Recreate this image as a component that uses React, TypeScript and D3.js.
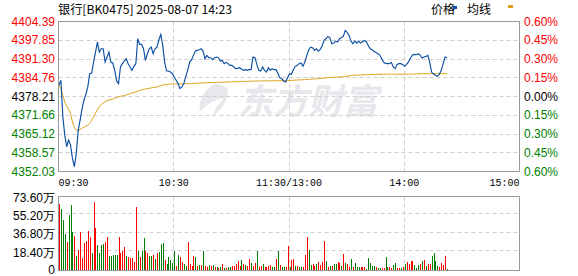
import React from "react";
import * as d3 from "d3";

const title = "银行[BK0475] 2025-08-07 14:23";
const prevClose = 4378.21;
const priceTicks = [4404.39, 4397.85, 4391.3, 4384.76, 4378.21, 4371.66, 4365.12, 4358.57, 4352.03];
const pctTicks = ["0.60%", "0.45%", "0.30%", "0.15%", "0.00%", "0.15%", "0.30%", "0.45%", "0.60%"];
const volTicks = [73.6, 55.2, 36.8, 18.4, 0];
const volTickLabels = ["73.60万", "55.20万", "36.80万", "18.40万", "0"];
const timeTicks = [0, 60, 120, 180, 240];
const timeLabels = ["09:30", "10:30", "11:30/13:00", "14:00", "15:00"];

// price per minute from 09:30
const price = [
  4382.13, 4383.87, 4371.11, 4364.73, 4360.67, 4362.99, 4361.25, 4356.61, 4353.71, 4358.35,
  4366.47, 4369.95, 4374.01, 4376.91, 4378.99, 4381.55, 4386.19, 4386.42, 4390.24, 4393.72,
  4397.2, 4393.72, 4394.88, 4394.88, 4390.24, 4391.98, 4393.72, 4390.24, 4389.9, 4387.35,
  4383.64, 4382.71, 4388.51, 4389.67, 4390.59, 4391.4, 4389.67, 4388.51, 4387.35, 4388.74,
  4389.67, 4398.36, 4396.39, 4396.39, 4394.88, 4390.82, 4393.14, 4394.88, 4395.46, 4393.14,
  4394.88, 4395.46, 4398.01, 4399.87, 4396.04, 4390.24, 4387.11, 4387.11, 4386.76, 4386.19,
  4385.03, 4383.87, 4382.71, 4380.97, 4381.55, 4382.71, 4385.26, 4387.35, 4390.24,
  4391.05, 4392.56, 4394.07, 4394.3, 4394.53, 4394.88, 4394.07, 4391.4, 4392.56, 4391.75,
  4391.75, 4391.05, 4391.75, 4391.98, 4391.75, 4390.59, 4390.82, 4389.67, 4390.13, 4389.67,
  4389.08, 4389.08, 4388.51, 4387.93, 4388.04, 4388.27, 4387.81, 4387.35, 4387.58, 4387.35,
  4387.58, 4387.58, 4391.98, 4391.75, 4389.43, 4387.35, 4387.11, 4388.51, 4387.35, 4386.76,
  4388.27, 4387.35, 4387.93, 4387.58, 4387.58, 4386.19, 4384.79, 4384.44, 4383.64, 4383.29,
  4384.79, 4386.19, 4385.95, 4387.58, 4388.74, 4389.08, 4389.67, 4389.9, 4388.74, 4390.24,
  4392.56, 4394.53, 4395.46, 4395.23, 4394.3, 4394.88, 4394.07,
  4394.65, 4395.93, 4397.78, 4398.36, 4399.17, 4398.71, 4396.62, 4396.85, 4397.55, 4397.2,
  4398.36, 4398.71, 4399.17, 4401.26, 4400.57, 4399.52, 4397.55, 4396.62, 4397.55, 4396.85,
  4397.55, 4396.85, 4397.32, 4397.78, 4397.32, 4396.04, 4394.88, 4394.53, 4393.95, 4393.61,
  4393.14, 4392.68, 4391.4, 4390.13, 4389.78, 4389.67, 4389.67, 4390.13, 4388.51, 4387.93,
  4389.43, 4389.67, 4389.67, 4389.32, 4388.74, 4389.43, 4390.36, 4391.63, 4392.68, 4392.91,
  4392.79, 4393.14, 4392.68, 4391.63, 4391.98, 4392.21, 4392.56, 4390.24, 4386.65, 4386.07,
  4385.61, 4385.26, 4385.95, 4387.35, 4389.67, 4391.98, 4391.75,
];

const avgLine = [
  4382.13, 4380.97, 4378.65, 4376.33, 4374.82, 4373.78, 4372.26, 4369.36, 4367.39, 4366.47,
  4366.23, 4366.69, 4367.16, 4367.5, 4367.85, 4368.2, 4368.78, 4369.94, 4371.1, 4372.49,
  4373.65, 4374.58, 4375.39, 4375.97, 4376.44, 4376.78, 4377.02, 4377.13, 4377.36, 4377.6,
  4377.83, 4378.06, 4378.29, 4378.41, 4378.53, 4378.76, 4378.99, 4379.22, 4379.45, 4379.68,
  4379.8, 4380.15, 4380.38, 4380.5, 4380.73, 4380.84, 4380.96, 4381.08, 4381.19, 4381.31,
  4381.42, 4381.54, 4381.77, 4382.0, 4382.24, 4382.35, 4382.47, 4382.47, 4382.58, 4382.58,
  4382.58, 4382.58, 4382.62, 4382.62, 4382.62, 4382.66, 4382.66, 4382.7, 4382.7,
  4382.72, 4382.75, 4382.8, 4382.85, 4382.9, 4382.93, 4382.96, 4383.0, 4383.03, 4383.06,
  4383.08, 4383.1, 4383.12, 4383.14, 4383.16, 4383.18, 4383.2, 4383.22, 4383.25, 4383.28,
  4383.31, 4383.34, 4383.37, 4383.39, 4383.41, 4383.43, 4383.45, 4383.47, 4383.49, 4383.51,
  4383.53, 4383.55, 4383.57, 4383.6, 4383.62, 4383.63, 4383.64, 4383.65, 4383.66, 4383.67,
  4383.68, 4383.69, 4383.7, 4383.7, 4383.71, 4383.71, 4383.72, 4383.72, 4383.73, 4383.74,
  4383.76, 4383.8, 4383.84, 4383.88, 4383.92, 4383.96, 4384.0, 4384.03, 4384.06, 4384.09,
  4384.14, 4384.19, 4384.24, 4384.29, 4384.34, 4384.39, 4384.44,
  4384.5, 4384.56, 4384.62, 4384.7, 4384.79, 4384.83, 4384.87, 4384.91, 4384.95, 4384.99,
  4385.02, 4385.1, 4385.18, 4385.26, 4385.34, 4385.42, 4385.5, 4385.6, 4385.63, 4385.66,
  4385.69, 4385.72, 4385.76, 4385.8, 4385.83, 4385.86, 4385.89, 4385.92, 4385.95, 4385.95,
  4385.96, 4385.96, 4385.97, 4385.97, 4385.98, 4385.98, 4385.99, 4385.99, 4386.0, 4386.0,
  4386.0, 4386.0, 4386.0, 4386.0, 4386.0, 4386.0, 4386.02, 4386.04, 4386.06, 4386.08,
  4386.1, 4386.12, 4386.18, 4386.18, 4386.18, 4386.18, 4386.18, 4386.18, 4386.18, 4386.18,
  4386.18, 4386.18, 4386.18, 4386.18, 4386.18, 4386.18, 4386.18,
];

// volume (万) per minute
const volume = [
  66, 61, 50, 36, 28, 55, 65, 38, 34, 14, 20, 38, 12, 27, 29, 39, 33, 17, 68, 42,
  25, 17, 25, 26, 28, 33, 14, 14, 15, 15, 15, 33, 17, 19, 23, 14, 13, 12, 12, 8,
  63, 19, 13, 19, 32, 19, 17, 14, 14, 15, 11, 17, 18, 26, 27, 10, 6, 13, 10, 7,
  19, 4, 15, 13, 8, 6, 4, 28,
  6, 4, 14, 13, 4, 5, 5, 19, 4, 3, 5, 4, 5, 3, 3, 2, 3, 6, 2, 2,
  3, 3, 4, 4, 6, 9, 4, 10, 6, 5, 4, 11, 7, 4, 7, 19, 3, 4, 6, 3,
  3, 4, 5, 3, 3, 11, 19, 5, 3, 3, 3, 24, 3, 10, 11, 4, 4, 3, 3, 3,
  15, 33, 20, 5, 6, 4, 6, 8, 5, 8, 29, 9, 3, 4, 4, 6, 6, 8, 7, 4,
  16, 7, 6, 3, 11, 3, 7, 3, 3, 3, 3, 3, 1, 12, 7, 4, 4, 3, 2, 2,
  2, 2,
  13, 3, 3, 2, 5, 7, 2, 2, 2, 3, 6, 8, 6, 9, 9, 5, 2, 5, 6, 9,
  10, 4, 6, 6, 14, 17, 9, 4, 3, 7, 5, 14, 1,
];
// 1 = up (red), 0 = down (green)
const volDir = [
  1, 0, 0, 0, 1, 0, 0, 0, 1, 0, 1, 1, 1, 1, 1, 1, 1, 0, 1, 1,
  0, 0, 0, 0, 1, 1, 0, 0, 0, 0, 0, 1, 1, 1, 1, 0, 1, 1, 1, 1,
  1, 0, 1, 0, 0, 1, 1, 0, 0, 1, 0, 1, 0, 0, 0, 1, 0, 0, 0, 0,
  0, 1, 0, 1, 1, 0, 0, 1,
  1, 1, 1, 0, 1, 0, 1, 0, 1, 1, 0, 1, 0, 1, 0, 1, 0, 1, 0, 1,
  0, 0, 1, 1, 1, 1, 1, 0, 1, 0, 1, 1, 0, 1, 1, 0, 1, 1, 0, 1,
  1, 1, 1, 0, 0, 1, 0, 1, 0, 0, 1, 1, 0, 1, 1, 0, 1, 0, 0, 1,
  1, 1, 0, 0, 1, 1, 0, 1, 1, 1, 1, 0, 1, 0, 1, 0, 0, 1, 1, 0,
  1, 0, 1, 1, 0, 1, 0, 0, 0, 1, 1, 1, 0, 0, 0, 0, 0, 1, 0, 0,
  1, 1,
  0, 0, 1, 1, 0, 0, 1, 1, 0, 1, 0, 1, 1, 1, 1, 0, 0, 0, 1, 0,
  1, 0, 1, 1, 0, 0, 0, 0, 1, 1, 1, 1, 0,
];

const L = 58.5, R = 519.5, PT = 21.5, PB = 171.5, VT = 196.5, VB = 270.5;
const RED = "#ff0000", GREEN = "#008000", BLUE = "#0c4fa3", GOLD = "#dca21c";
const NUM_FONT = "'Liberation Sans', Arial, sans-serif";
const MONO = "'Liberation Mono', 'DejaVu Sans Mono', monospace";
const CJK = "'Noto Sans CJK SC', sans-serif";

export default function App() {
  const x = d3.scaleLinear().domain([0, 240]).range([L, R]);
  const yP = d3.scaleLinear().domain([4352.03, 4404.39]).range([PB, PT]);
  const yV = d3.scaleLinear().domain([0, 73.6]).range([VB - 0.5, VT]);
  const crisp = (v: number) => Math.floor(v) + 0.5;

  const priceLine = d3.line<number>().x((_, i) => x(i) + 0.5).y((d) => yP(d))(price) || "";
  const avgPath = d3.line<number>().x((_, i) => x(i) + 0.5).y((d) => yP(d))(avgLine) || "";

  const labelColor = (v: number) => (v > prevClose + 1e-6 ? RED : v < prevClose - 1e-6 ? GREEN : "#000");

  return (
    <div style={{ position: "fixed", left: 0, top: 0 }}>
      <svg width={578} height={276} style={{ display: "block", background: "#fff" }}>
        {/* watermark */}
        <g fill="#e7e7ec">
          <path d="M214,84 C204,90 198,100 200,112 C206,104 214,100 224,98 C218,104 214,110 213,116 C222,110 228,100 228,90 C226,86 220,84 214,84 Z" />
          <text x={238} y={114} fontSize={35} fontWeight="bold" fontFamily={CJK} fontStyle="italic">东方财富</text>
        </g>
        {/* price grid */}
        {priceTicks.slice(1, -1).map((t, i) => (
          <line key={"pg" + i} x1={L} x2={R} y1={crisp(yP(t))} y2={crisp(yP(t))} stroke="#cfcfcf" strokeDasharray="4,3" />
        ))}
        {timeTicks.slice(1, -1).map((t, i) => (
          <line key={"pv" + i} x1={crisp(x(t))} x2={crisp(x(t))} y1={PT} y2={PB} stroke="#cfcfcf" strokeDasharray="4,3" />
        ))}
        {/* volume grid */}
        {volTicks.slice(1, -1).map((t, i) => (
          <line key={"vg" + i} x1={L} x2={R} y1={crisp(yV(t)) - 1} y2={crisp(yV(t)) - 1} stroke="#cfcfcf" strokeDasharray="4,3" />
        ))}
        {timeTicks.slice(1, -1).map((t, i) => (
          <line key={"vv" + i} x1={crisp(x(t))} x2={crisp(x(t))} y1={VT} y2={VB} stroke="#cfcfcf" strokeDasharray="4,3" />
        ))}
        {/* volume bars */}
        {volume.map((v, i) => (
          <rect key={"b" + i} x={Math.round(x(i) + 0.5)} y={yV(v)} width={1} height={yV(0) - yV(v)} fill={volDir[i] ? RED : GREEN} />
        ))}
        {/* lines */}
        <path d={avgPath} fill="none" stroke={GOLD} strokeWidth={1} />
        <path d={priceLine} fill="none" stroke={BLUE} strokeWidth={1.15} />
        {/* frames */}
        <rect x={L} y={PT} width={R - L} height={PB - PT} fill="none" stroke="#999" />
        <rect x={L} y={VT} width={R - L} height={VB - VT} fill="none" stroke="#999" />
        {/* left price labels */}
        {priceTicks.map((t, i) => (
          <text key={"pl" + i} x={55} y={yP(t)} dy="0.35em" textAnchor="end" fontSize={12} fontFamily={NUM_FONT} fill={labelColor(t)}>
            {t.toFixed(2)}
          </text>
        ))}
        {/* right pct labels */}
        {pctTicks.map((p, i) => (
          <text key={"rl" + i} x={524} y={yP(priceTicks[i])} dy="0.35em" fontSize={12} fontFamily={NUM_FONT} fill={labelColor(priceTicks[i])}>
            {p}
          </text>
        ))}
        {/* time labels */}
        {timeLabels.map((s, i) => (
          <text key={"tl" + i} x={x(timeTicks[i])} y={186} fontSize={11} fontFamily={MONO}
            textAnchor={i === 0 ? "start" : i === timeLabels.length - 1 ? "end" : "middle"}
            textLength={s.length * 6} lengthAdjust="spacingAndGlyphs" fill="#000">
            {s}
          </text>
        ))}
        {/* volume labels */}
        {volTicks.map((t, i) => (
          <text key={"vl" + i} x={55} y={yV(t) + (t === 0 ? -0.5 : 1)} dy="0.35em" textAnchor="end" fontSize={12} fontFamily={NUM_FONT} fill="#000">
            {volTickLabels[i]}
          </text>
        ))}
        {/* title */}
        <text x={58} y={14} fontSize={12} fontFamily={CJK} textLength={174} lengthAdjust="spacingAndGlyphs" fill="#000">
          {title}
        </text>
        {/* legend */}
        <text x={431} y={14} fontSize={12} fontFamily={CJK} fill="#000">价格</text>
        <rect x={453} y={6} width={4} height={3} fill={BLUE} />
        <text x={467} y={14} fontSize={12} fontFamily={CJK} fill="#000">均线</text>
        <rect x={508} y={5} width={5} height={3} fill={GOLD} />
      </svg>
    </div>
  );
}
